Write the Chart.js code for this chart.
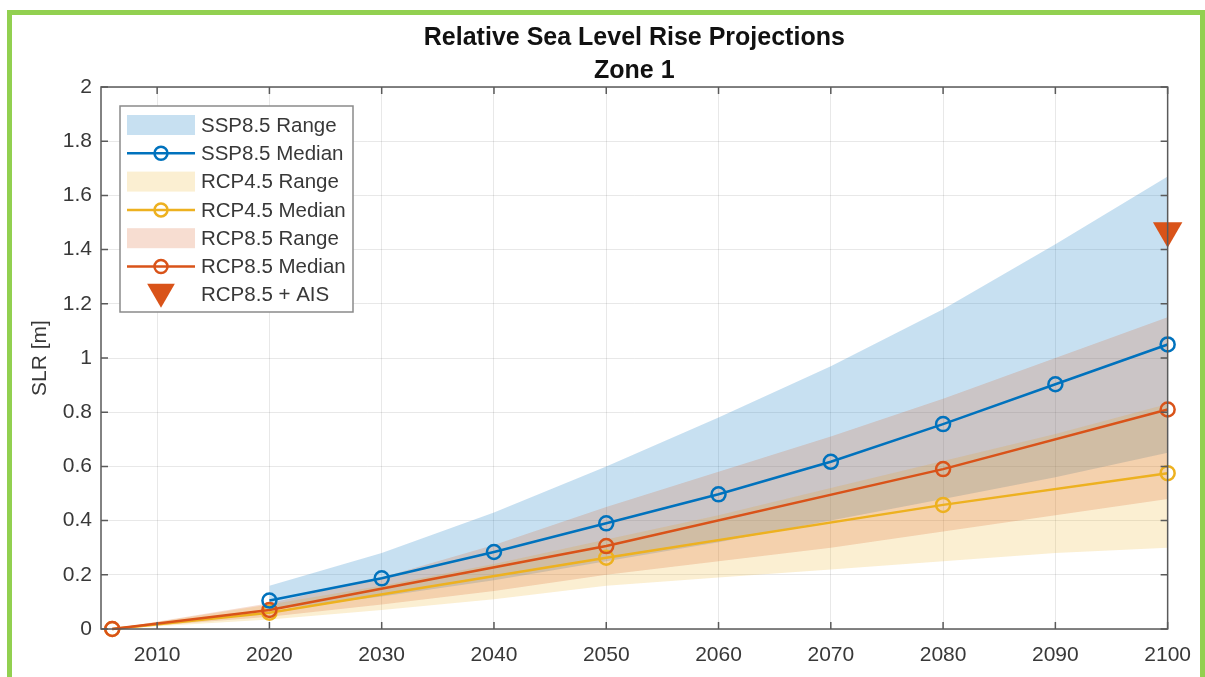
<!DOCTYPE html>
<html>
<head>
<meta charset="utf-8">
<script src="https://cdn.jsdelivr.net/npm/chart.js@4.4.1/dist/chart.umd.min.js"></script>
<style>
  html, body { margin: 0; padding: 0; background: #fff; }
  body { position: relative; width: 1205px; height: 677px; overflow: hidden; }
  #frame { position: absolute; left: 7px; top: 10px; width: 1188px; height: 700px; border: 5px solid #92d050; }
  #wrap { position: absolute; left: 0; top: 0; width: 1205px; height: 677px; }
</style>
</head>
<body>
<div id="frame"></div>
<div id="wrap"><canvas id="slrChart" width="1205" height="677"></canvas></div>
<script>
// Years and values
const rcpYears = [2006, 2020, 2030, 2040, 2050, 2060, 2070, 2080, 2090, 2100];
const sspYears = [2020, 2030, 2040, 2050, 2060, 2070, 2080, 2090, 2100];
const medianYearsRcp = [2006, 2020, 2050, 2080, 2100];

const sspLower = [0.07, 0.12, 0.18, 0.25, 0.32, 0.40, 0.48, 0.56, 0.65];
const sspUpper = [0.16, 0.28, 0.43, 0.60, 0.78, 0.97, 1.18, 1.42, 1.67];
const sspMedian = [0.105, 0.187, 0.284, 0.39, 0.497, 0.617, 0.756, 0.903, 1.05];

const rcp45Lower = [0, 0.035, 0.07, 0.11, 0.16, 0.19, 0.22, 0.25, 0.28, 0.30];
const rcp45Upper = [0, 0.09, 0.16, 0.24, 0.33, 0.42, 0.52, 0.62, 0.72, 0.83];
const rcp45Median = [0, 0.06, 0.263, 0.458, 0.575];

const rcp85Lower = [0, 0.045, 0.09, 0.14, 0.20, 0.25, 0.30, 0.36, 0.42, 0.48];
const rcp85Upper = [0, 0.095, 0.19, 0.31, 0.45, 0.58, 0.71, 0.85, 1.00, 1.15];
const rcp85Median = [0, 0.07, 0.306, 0.59, 0.81];

const aisYears = [2100];
const aisValues = [1.47];

const xTicks = [2010, 2020, 2030, 2040, 2050, 2060, 2070, 2080, 2090, 2100];
const titleLines = ['Relative Sea Level Rise Projections', 'Zone 1'];
const yAxisLabel = 'SLR [m]';
const legendLabels = ['SSP8.5 Range', 'SSP8.5 Median', 'RCP4.5 Range', 'RCP4.5 Median', 'RCP8.5 Range', 'RCP8.5 Median', 'RCP8.5 + AIS'];

// MATLAB default colours
const BLUE = '#0072BD';
const YELLOW = '#EDB120';
const RED = '#D95319';
const BLUE_FILL = 'rgba(0,114,189,0.22)';
const YELLOW_FILL = 'rgba(237,177,32,0.2)';
const RED_FILL = 'rgba(217,83,25,0.2)';
const FONT = '"Liberation Sans", Arial, sans-serif';
const TEXT = '#383838';

function pts(xs, ys) {
    return xs.map((x, i) => ({ x: x, y: ys[i] }));
}

// chart.js paints low "order" last, so lines get small numbers
function bandLower(xs, ys, order) {
    return { data: pts(xs, ys), order: order, borderWidth: 0, pointRadius: 0, fill: false, backgroundColor: 'transparent' };
}

function bandUpper(xs, ys, color, order) {
    return { data: pts(xs, ys), order: order, borderWidth: 0, pointRadius: 0, fill: '-1', backgroundColor: color };
}

function medianLine(xs, ys, color, order) {
    return {
        data: pts(xs, ys),
        order: order,
        borderColor: color,
        borderWidth: 2.5,
        pointStyle: 'circle',
        pointRadius: 7,
        pointBorderWidth: 2.5,
        pointBorderColor: color,
        pointBackgroundColor: 'rgba(0,0,0,0)',
        fill: false,
        clip: false
    };
}

// legend symbols, in the order of legendLabels
const legendSymbols = [
    { kind: 'patch', color: BLUE_FILL },
    { kind: 'line', color: BLUE },
    { kind: 'patch', color: YELLOW_FILL },
    { kind: 'line', color: YELLOW },
    { kind: 'patch', color: RED_FILL },
    { kind: 'line', color: RED },
    { kind: 'triangle', color: RED }
];

function drawTriangleDown(ctx, x, y, r, color) {
    ctx.save();
    ctx.fillStyle = color;
    ctx.beginPath();
    ctx.moveTo(x - r * 0.866, y - r * 0.5);
    ctx.lineTo(x + r * 0.866, y - r * 0.5);
    ctx.lineTo(x, y + r);
    ctx.closePath();
    ctx.fill();
    ctx.restore();
}

const decorPlugin = {
    id: 'decor',
    afterDraw(chart) {
        const ctx = chart.ctx;
        const area = chart.chartArea;
        const xs = chart.scales.x;
        const ys = chart.scales.y;
        ctx.save();

        // box and inward ticks
        ctx.strokeStyle = '#5a5a5a';
        ctx.lineWidth = 1.5;
        ctx.strokeRect(area.left, area.top, area.right - area.left, area.bottom - area.top);
        ctx.beginPath();
        xs.ticks.forEach(t => {
            const px = xs.getPixelForValue(t.value);
            ctx.moveTo(px, area.bottom); ctx.lineTo(px, area.bottom - 7);
            ctx.moveTo(px, area.top); ctx.lineTo(px, area.top + 7);
        });
        ys.ticks.forEach(t => {
            const py = ys.getPixelForValue(t.value);
            ctx.moveTo(area.left, py); ctx.lineTo(area.left + 7, py);
            ctx.moveTo(area.right, py); ctx.lineTo(area.right - 7, py);
        });
        ctx.stroke();

        // title
        const cx = (area.left + area.right) / 2;
        ctx.fillStyle = '#111';
        ctx.font = 'bold 25px ' + FONT;
        ctx.textAlign = 'center';
        ctx.textBaseline = 'middle';
        ctx.fillText(titleLines[0], cx, 38);
        ctx.fillText(titleLines[1], cx, 71);

        // y axis label
        ctx.save();
        ctx.translate(40, (area.top + area.bottom) / 2);
        ctx.rotate(-Math.PI / 2);
        ctx.font = '21px ' + FONT;
        ctx.fillStyle = TEXT;
        ctx.fillText(yAxisLabel, 0, 0);
        ctx.restore();

        // legend
        const lx = 120, ly = 106, lw = 233, lh = 206;
        ctx.fillStyle = '#fff';
        ctx.fillRect(lx, ly, lw, lh);
        ctx.strokeStyle = '#8a8a8a';
        ctx.lineWidth = 1.5;
        ctx.strokeRect(lx, ly, lw, lh);
        const rowH = 28.3;
        ctx.font = '20.5px ' + FONT;
        ctx.textAlign = 'left';
        legendLabels.forEach((label, i) => {
            const y = 125 + i * rowH;
            const sym = legendSymbols[i];
            if (sym.kind === 'patch') {
                ctx.fillStyle = sym.color;
                ctx.fillRect(127, y - 10, 68, 20);
            } else if (sym.kind === 'line') {
                ctx.strokeStyle = sym.color;
                ctx.lineWidth = 2.5;
                ctx.beginPath();
                ctx.moveTo(127, y); ctx.lineTo(195, y);
                ctx.stroke();
                ctx.beginPath();
                ctx.arc(161, y, 6.5, 0, Math.PI * 2);
                ctx.stroke();
            } else {
                drawTriangleDown(ctx, 161, y - 3, 16, sym.color);
            }
            ctx.fillStyle = TEXT;
            ctx.fillText(label, 201, y + 1);
        });
        ctx.restore();
    }
};

const ctx = document.getElementById('slrChart').getContext('2d');
const chart = new Chart(ctx, {
    type: 'line',
    data: {
        datasets: [
            bandLower(sspYears, sspLower, 10),
            bandUpper(sspYears, sspUpper, BLUE_FILL, 9),
            bandLower(rcpYears, rcp45Lower, 8),
            bandUpper(rcpYears, rcp45Upper, YELLOW_FILL, 7),
            bandLower(rcpYears, rcp85Lower, 6),
            bandUpper(rcpYears, rcp85Upper, RED_FILL, 5),
            medianLine(medianYearsRcp, rcp45Median, YELLOW, 3),
            medianLine(medianYearsRcp, rcp85Median, RED, 2),
            medianLine(sspYears, sspMedian, BLUE, 1),
            {
                data: pts(aisYears, aisValues),
                order: 0,
                showLine: false,
                pointStyle: 'triangle',
                rotation: 180,
                pointRadius: 17,
                pointBackgroundColor: RED,
                pointBorderColor: RED,
                pointBorderWidth: 0,
                clip: false
            }
        ]
    },
    options: {
        responsive: false,
        animation: false,
        layout: { padding: { top: 87, right: 35, left: 0, bottom: 0 } },
        plugins: {
            legend: { display: false },
            tooltip: { enabled: false },
            title: { display: false }
        },
        elements: { line: { tension: 0 } },
        scales: {
            x: {
                type: 'linear',
                min: 2005,
                max: 2100,
                afterBuildTicks: scale => { scale.ticks = xTicks.map(v => ({ value: v })); },
                afterFit: scale => { scale.height = 48; },
                grid: { color: 'rgba(0,0,0,0.09)', lineWidth: 1, drawTicks: false },
                border: { display: false },
                ticks: {
                    padding: 14,
                    color: TEXT,
                    font: { family: FONT, size: 21 },
                    maxRotation: 0,
                    callback: v => String(v)
                }
            },
            y: {
                min: 0,
                max: 2,
                afterFit: scale => { scale.width = 101; },
                grid: { color: 'rgba(0,0,0,0.09)', lineWidth: 1, drawTicks: false },
                border: { display: false },
                ticks: {
                    stepSize: 0.2,
                    padding: 9,
                    color: TEXT,
                    font: { family: FONT, size: 21 },
                    callback: v => String(Number(v.toFixed(1)))
                }
            }
        }
    },
    plugins: [decorPlugin]
});
</script>
</body>
</html>
